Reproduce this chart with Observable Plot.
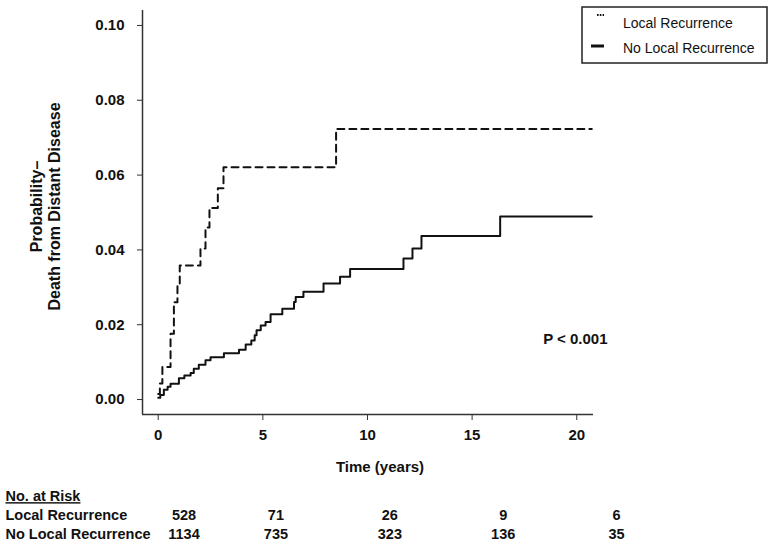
<!DOCTYPE html>
<html>
<head>
<meta charset="utf-8">
<script src="https://cdn.jsdelivr.net/npm/d3@7"></script>
<script src="https://cdn.jsdelivr.net/npm/@observablehq/plot@0.6"></script>
<style>
  html, body { margin: 0; padding: 0; background: #fff; }
  #wrap { position: relative; width: 771px; height: 549px; overflow: hidden; font-family: "Liberation Sans", Arial, sans-serif; }
  #wrap svg { display: block; }
  #legend { position: absolute; left: 581px; top: 6px; }
</style>
</head>
<body>
<div id="wrap"></div>
<script>
// Local Recurrence (dashed) cumulative probability steps
const lrTime = [0, 0.08, 0.2, 0.59, 0.75, 0.92, 1.03, 2.02, 2.26, 2.45, 2.85, 3.12, 8.5, 20.72];
const lrProb = [0.0015, 0.0043, 0.0087, 0.0176, 0.026, 0.031, 0.0358, 0.0404, 0.046, 0.0512, 0.0565, 0.0621, 0.0723, 0.0723];

// No Local Recurrence (solid)
const nlrTime = [0, 0.1, 0.27, 0.45, 0.59, 0.99, 1.25, 1.55, 1.7, 1.94, 2.26, 2.5, 3.14, 3.86, 4.18, 4.45, 4.61, 4.7, 4.9, 5.13, 5.37, 5.93, 6.49, 6.57, 6.94, 7.9, 8.69, 9.17, 11.72, 12.15, 12.58, 16.34, 20.72];
const nlrProb = [0.0005, 0.0012, 0.0026, 0.0034, 0.0042, 0.0057, 0.0064, 0.0071, 0.0082, 0.0093, 0.0105, 0.0113, 0.0124, 0.0133, 0.0147, 0.0158, 0.0172, 0.0185, 0.0198, 0.0207, 0.0228, 0.0243, 0.0261, 0.0274, 0.0288, 0.031, 0.0328, 0.0349, 0.0377, 0.0404, 0.0437, 0.0489, 0.0489];

const xTicks = [0, 5, 10, 15, 20];
const yTicks = [0, 0.02, 0.04, 0.06, 0.08, 0.10];

const seriesNames = ["Local Recurrence", "No Local Recurrence"];
const riskTimes = [0, 5, 10, 15, 20];
const riskLocal = [528, 71, 26, 9, 6];
const riskNoLocal = [1134, 735, 323, 136, 35];
const riskHeader = "No. at Risk";
const pText = "P < 0.001";
const xLabel = "Time (years)";
const yLabel = "Probability–\nDeath from Distant Disease";

const lrData = lrTime.map((t, i) => ({t, p: lrProb[i]}));
const nlrData = nlrTime.map((t, i) => ({t, p: nlrProb[i]}));

const font = "'Liberation Sans', Arial, sans-serif";

const main = Plot.plot({
  width: 771,
  height: 480,
  marginTop: 10,
  marginRight: 178,
  marginBottom: 66,
  marginLeft: 142,
  style: {fontFamily: font, background: "#fff", color: "#111", overflow: "visible"},
  x: {domain: [-0.75, 20.8]},
  y: {domain: [-0.004, 0.104]},
  marks: [
    Plot.ruleX([-0.75], {stroke: "#333", strokeWidth: 1.5}),
    Plot.ruleY([-0.004], {stroke: "#333", strokeWidth: 1.5}),
    Plot.axisY(yTicks, {tickFormat: d3.format(".2f"), tickSize: 5, tickPadding: 13, fontSize: 15, fontWeight: "bold", label: null, stroke: "#333"}),
    Plot.axisX(xTicks, {tickSize: 6, tickPadding: 9, fontSize: 15, fontWeight: "bold", label: null, stroke: "#333"}),
    Plot.line(nlrData, {x: "t", y: "p", curve: "step-after", stroke: "#111", strokeWidth: 2}),
    Plot.line(lrData, {x: "t", y: "p", curve: "step-after", stroke: "#111", strokeWidth: 2, strokeDasharray: "7,5"}),
    Plot.text([pText], {frameAnchor: "bottom-right", dx: 14, dy: -71, fontSize: 15, fontWeight: "bold", textAnchor: "end"}),
    Plot.text([xLabel], {frameAnchor: "bottom", dx: 12, dy: 57, fontSize: 15, fontWeight: "bold"}),
    Plot.text([yLabel], {frameAnchor: "left", rotate: -90, dx: -97, dy: -6, fontSize: 16, fontWeight: "bold", lineHeight: 1.12, textAnchor: "middle"})
  ]
});

const rows = [riskHeader, ...seriesNames];
const riskData = [
  ...riskTimes.map((t, i) => ({t, row: seriesNames[0], n: riskLocal[i]})),
  ...riskTimes.map((t, i) => ({t, row: seriesNames[1], n: riskNoLocal[i]}))
];

// the printed table columns are not evenly spaced in time; warp the time value to column position
const colWarp = d3.scaleLinear().domain([0, 5, 10, 15, 20]).range([0, 4.25, 9.52, 14.76, 20]);

const table = Plot.plot({
  width: 771,
  height: 69,
  margin: 0,
  style: {fontFamily: font, background: "#fff", color: "#111", overflow: "visible"},
  x: {type: "linear", domain: [0, 20], range: [183.5, 616], transform: colWarp, axis: null},
  y: {type: "point", domain: rows, range: [15.5, 53.5], padding: 0, axis: null},
  marks: [
    Plot.text(rows, {y: d => d, text: d => d, frameAnchor: "left", dx: 5, textAnchor: "start", fontSize: 14.5, fontWeight: "bold"}),
    Plot.text(riskData, {x: "t", y: "row", text: d => String(d.n), fontSize: 14.5, fontWeight: "bold"})
  ]
});
d3.select(table).selectAll("text").filter(function() { return this.textContent === riskHeader; })
  .style("text-decoration", "underline");

const wrap = document.getElementById("wrap");
wrap.appendChild(main);
wrap.appendChild(table);

// legend
const leg = d3.select(wrap).append("svg").attr("id", "legend").attr("width", 188).attr("height", 60);
leg.append("rect").attr("x", 1).attr("y", 1).attr("width", 185).attr("height", 56)
  .attr("fill", "#fff").attr("stroke", "#222").attr("stroke-width", 1.5);
leg.append("line").attr("x1", 16).attr("x2", 23).attr("y1", 9).attr("y2", 9)
  .attr("stroke", "#111").attr("stroke-width", 2).attr("stroke-dasharray", "1.6,1.2");
leg.append("line").attr("x1", 10).attr("x2", 23).attr("y1", 40).attr("y2", 40)
  .attr("stroke", "#111").attr("stroke-width", 3);
leg.selectAll("text.lbl").data(seriesNames).join("text").attr("class", "lbl")
  .attr("x", 42).attr("y", (d, i) => i === 0 ? 22 : 47)
  .attr("font-family", font).attr("font-size", 14).attr("fill", "#111").text(d => d);
</script>
</body>
</html>
